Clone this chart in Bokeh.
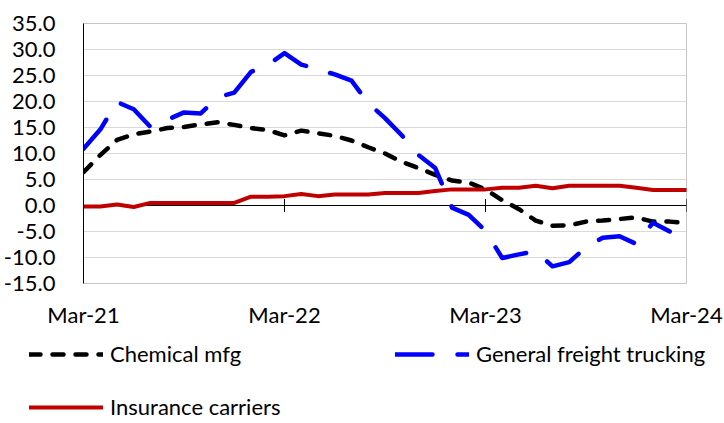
import math
from bokeh.plotting import figure
from bokeh.models import (Range1d, FixedTicker, Span, Legend, LegendItem,
                          ColumnDataSource, SingleIntervalTicker, NumeralTickFormatter)
from bokeh.embed import file_html
from bokeh.resources import INLINE

# ---- data (monthly, Mar-21 .. Mar-24) ----
months = list(range(37))
tick_months = [0, 12, 24, 36]
tick_labels = ["Mar-21", "Mar-22", "Mar-23", "Mar-24"]

chemical_mfg = [6.4, 9.7, 12.6, 13.7, 14.2, 14.9, 15.1, 15.6, 16.0, 15.5, 14.9, 14.5,
                13.5, 14.4, 13.9, 13.4, 12.5, 11.2, 10.0, 8.4, 7.2, 5.9, 4.8, 4.4,
                3.1, 1.0, -0.7, -2.9, -3.9, -3.8, -3.1, -2.9, -2.6, -2.3, -3.1, -3.1, -3.4]

freight_trucking = [10.9, 14.6, 19.9, 18.5, 15.1, 16.5, 17.9, 17.7, 20.8, 21.7, 25.7, 27.0,
                    29.3, 27.1, 26.2, 25.2, 24.0, 19.7, 16.8, 13.5, 9.7, 7.2, -0.4, -1.8,
                    -4.9, -10.1, -9.4, -8.8, -11.7, -10.9, -8.0, -6.2, -5.9, -7.4, -3.3, -5.0,
                    float("nan")]

insurance_carriers = [-0.2, -0.2, 0.2, -0.3, 0.5, 0.5, 0.5, 0.5, 0.5, 0.5, 1.7, 1.7,
                      1.8, 2.2, 1.8, 2.1, 2.1, 2.1, 2.4, 2.4, 2.4, 2.8, 3.1, 3.1,
                      3.1, 3.4, 3.4, 3.8, 3.3, 3.8, 3.8, 3.8, 3.8, 3.4, 3.0, 3.0, 3.0]

series_names = ["Chemical mfg", "General freight trucking", "Insurance carriers"]

FONT = "Lato"
FS = "22px"

STYLES = {
    "chem": dict(line_color="black", line_width=4.5, line_dash="11 12",
                 line_cap="round", line_join="round"),
    "truck": dict(line_color="#0000ff", line_width=4.5, line_dash="37 25",
                  line_cap="round", line_join="round"),
    "ins": dict(line_color="#c00000", line_width=4, line_cap="round",
                line_join="round"),
}

src = ColumnDataSource(dict(x=months, chem=chemical_mfg, truck=freight_trucking,
                            ins=insurance_carriers))

p = figure(width=724, height=330, output_backend="svg", toolbar_location=None,
           x_range=Range1d(0, 36), y_range=Range1d(-15, 35),
           min_border_left=82, min_border_right=38, min_border_top=23,
           min_border_bottom=46)

p.background_fill_color = "white"
p.border_fill_color = "white"
p.outline_line_color = "#c4c4c4"
p.outline_line_width = 1

# y axis
p.yaxis.ticker = SingleIntervalTicker(interval=5)
p.yaxis.formatter = NumeralTickFormatter(format="0.0")
p.yaxis.axis_line_color = "black"
p.yaxis.axis_line_width = 1
p.yaxis.major_tick_line_color = None
p.yaxis.minor_tick_line_color = None
p.yaxis.major_label_standoff = 22
p.yaxis.major_label_text_font = FONT
p.yaxis.major_label_text_font_size = FS
p.yaxis.major_label_text_color = "black"

# x axis (labels only, at the bottom)
p.xaxis.ticker = FixedTicker(ticks=tick_months)
p.xaxis.major_label_overrides = {m: l for m, l in zip(tick_months, tick_labels)}
p.xaxis.axis_line_color = None
p.xaxis.major_tick_line_color = None
p.xaxis.minor_tick_line_color = None
p.xaxis.major_label_standoff = 11
p.xaxis.major_label_text_font = FONT
p.xaxis.major_label_text_font_size = FS
p.xaxis.major_label_text_color = "black"

p.xgrid.grid_line_color = None
p.ygrid.ticker = SingleIntervalTicker(interval=5)
p.ygrid.grid_line_color = "#d9d9d9"
p.ygrid.grid_line_width = 1

# category axis line at zero with cross ticks
p.add_layout(Span(location=0, dimension="width", line_color="black", line_width=1,
                  level="underlay"))
p.scatter(x=tick_months[1:], y=[0] * (len(tick_months) - 1), marker="dash",
          angle=math.pi / 2, size=13, line_color="black", line_width=1)

p.line("x", "chem", source=src, **STYLES["chem"])
p.line("x", "truck", source=src, **STYLES["truck"])
p.line("x", "ins", source=src, **STYLES["ins"])

# ---- legend strip: a second root figure below the chart ----
lg_fig = figure(width=724, height=93, output_backend="svg", toolbar_location=None,
                x_range=Range1d(0, 1), y_range=Range1d(0, 1),
                min_border_left=0, min_border_right=0, min_border_top=0,
                min_border_bottom=0)
lg_fig.axis.visible = False
lg_fig.grid.visible = False
lg_fig.outline_line_color = None
lg_fig.background_fill_color = "white"
lg_fig.border_fill_color = "white"

# legend-only renderers (NaN placeholder, nothing is drawn in the frame)
nan_src = ColumnDataSource(dict(x=[float("nan")], y=[float("nan")]))
proxy = {k: lg_fig.line("x", "y", source=nan_src, **STYLES[k])
         for k in ["chem", "truck", "ins"]}


def make_legend(label, renderer, loc):
    lg = Legend(items=[LegendItem(label=label, renderers=[renderer])],
                location=loc, orientation="horizontal",
                glyph_width=74, glyph_height=20, label_standoff=7,
                padding=0, margin=0, spacing=0,
                border_line_color=None, background_fill_alpha=0,
                label_text_font=FONT, label_text_font_size=FS,
                label_text_color="black")
    lg_fig.add_layout(lg, "center")


make_legend(series_names[0], proxy["chem"], (29, 56))
make_legend(series_names[1], proxy["truck"], (395, 56))
make_legend(series_names[2], proxy["ins"], (29, 3))

open("out.html", "w").write(file_html([p, lg_fig], INLINE))
